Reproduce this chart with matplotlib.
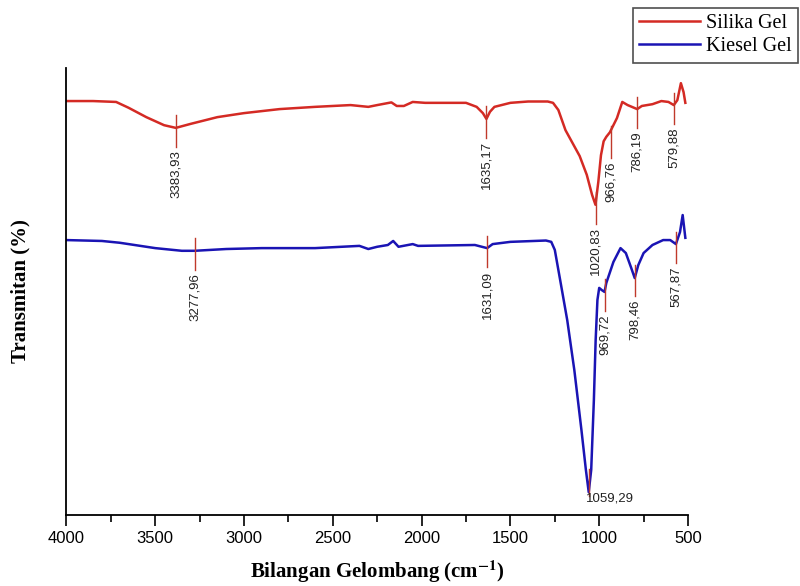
import numpy as np
import matplotlib
matplotlib.use("Agg")
import matplotlib.pyplot as plt
import matplotlib.transforms as mtransforms
from matplotlib.ticker import MultipleLocator

# Silika Gel spectrum (wavenumber cm-1, transmittance arbitrary %)
silika_wn = [4000, 3850, 3720, 3650, 3550, 3450, 3384, 3300, 3150, 3000, 2800, 2600,
             2400, 2300, 2250, 2170, 2140, 2100, 2050, 1980, 1750, 1690, 1655, 1635,
             1615, 1590, 1500, 1400, 1290, 1260, 1230, 1190, 1150, 1110, 1070, 1040,
             1021, 1005, 990, 975, 960, 940, 900, 870, 840, 786, 760, 700, 650, 610,
             580, 560, 540, 525, 515]
silika_t = [92.6, 92.6, 92.4, 91.1, 89.0, 87.2, 86.6, 87.5, 89.0, 89.9, 90.8, 91.3,
            91.7, 91.3, 91.7, 92.3, 91.5, 91.5, 92.4, 92.2, 92.2, 91.3, 89.9, 88.6,
            90.2, 91.3, 92.2, 92.5, 92.5, 92.2, 90.6, 86.1, 83.2, 80.3, 76.1, 71.6,
            69.4, 74.5, 80.5, 83.6, 84.6, 85.6, 88.8, 92.4, 91.7, 90.8, 91.5, 91.9, 92.6, 92.4,
            91.7, 92.8, 96.6, 94.6, 92.2]

# Kiesel Gel spectrum
kiesel_wn = [4000, 3800, 3700, 3500, 3350, 3278, 3100, 2900, 2600, 2350, 2300, 2250,
             2190, 2160, 2130, 2050, 2020, 1700, 1631, 1600, 1500, 1300, 1270, 1250,
             1220, 1180, 1140, 1100, 1075, 1059, 1045, 1030, 1020, 1010, 1000, 985,
             970, 960, 920, 880, 850, 820, 800, 780, 750, 700, 640, 600, 568, 545,
             530, 515]
kiesel_t = [61.5, 61.3, 60.9, 59.7, 59.1, 59.1, 59.5, 59.7, 59.7, 60.2, 59.5, 60.0,
            60.4, 61.3, 60.0, 60.6, 60.2, 60.4, 59.7, 60.6, 61.1, 61.4, 61.1, 59.3,
            52.6, 43.6, 32.4, 19.0, 10.1, 5.1, 10.1, 25.7, 39.1, 48.1, 50.8, 50.3,
            49.9, 51.9, 56.6, 59.7, 58.6, 55.3, 53.0, 55.9, 58.6, 60.4, 61.5, 61.5,
            60.6, 63.3, 67.1, 62.0]

silika_peaks = [3383.93, 1635.17, 1020.83, 966.76, 786.19, 579.88]
silika_peak_labels = ["3383,93", "1635,17", "1020,83", "966,76", "786,19", "579,88"]
kiesel_peaks = [3277.96, 1631.09, 969.72, 798.46, 567.87, 1059.29]
kiesel_peak_labels = ["3277,96", "1631,09", "969,72", "798,46", "567,87", "1059,29"]

plt.rcParams['font.family'] = ['Liberation Sans', 'DejaVu Sans']
plt.rcParams['mathtext.fontset'] = 'stix'

fig = plt.figure(figsize=(8, 5.86), dpi=100)
ax = fig.add_axes([0.083, 0.1212, 0.777, 0.7628])

red = '#d42a24'
blue = '#1a14b4'
mark = '#c0392b'

ax.plot(silika_wn, silika_t, color=red, lw=1.8, label='Silika Gel')
ax.plot(kiesel_wn, kiesel_t, color=blue, lw=1.8, label='Kiesel Gel')


def label_peaks(wn, t, peaks, labels, horizontal=(), nudge=None):
    # order in data is descending, np.interp needs ascending
    xs = np.array(wn[::-1], dtype=float)
    ys = np.array(t[::-1], dtype=float)
    nudge = nudge or {}
    for p, lab in zip(peaks, labels):
        y = np.interp(p, xs, ys)
        tr = mtransforms.offset_copy(ax.transData, fig=fig, x=nudge.get(lab, 0), y=0,
                                     units='dots')
        if lab in horizontal:
            ax.plot([p, p], [y + 5.0, y - 1.0], color=mark, lw=1, transform=tr)
            ax.text(p + 15, y - 0.2, lab, fontsize=9.5, color='#222222',
                    ha='left', va='top', transform=tr)
        else:
            ax.plot([p, p], [y + 2.8, y - 4.3], color=mark, lw=1, transform=tr)
            ax.text(p, y - 5.0, lab, fontsize=9.5, color='#222222', rotation=90,
                    ha='center', va='top', transform=tr)


label_peaks(silika_wn, silika_t, silika_peaks, silika_peak_labels, nudge={"966,76": 6})
label_peaks(kiesel_wn, kiesel_t, kiesel_peaks, kiesel_peak_labels, horizontal=("1059,29",))

ax.set_xlim(4000, 500)
ax.set_ylim(0, 100)
ax.xaxis.set_major_locator(MultipleLocator(500))
ax.xaxis.set_minor_locator(MultipleLocator(250))
ax.tick_params(axis='x', which='major', direction='out', length=8, width=1.2, labelsize=12)
ax.tick_params(axis='x', which='minor', direction='out', length=5, width=1.2)
ax.set_yticks([])
for s in ['top', 'right']:
    ax.spines[s].set_visible(False)
for s in ['left', 'bottom']:
    ax.spines[s].set_linewidth(1.3)

ax.set_xlabel('Bilangan Gelombang (cm$^{\\mathbf{-1}}$)', family='Liberation Serif',
              fontweight='bold', fontsize=15, labelpad=9)
ax.set_ylabel('Transmitan (%)', family='Liberation Serif', fontweight='bold',
              fontsize=15, labelpad=26)

leg = fig.legend(loc='upper right', bbox_to_anchor=(0.997, 0.986),
                 prop={'family': 'Liberation Serif', 'size': 14.5},
                 frameon=True, fancybox=False, edgecolor='#222222',
                 handlelength=3.0, handletextpad=0.3, borderpad=0.3,
                 labelspacing=0.2, borderaxespad=0)
leg.get_frame().set_linewidth(1.2)

fig.savefig('out.png', dpi=100)
